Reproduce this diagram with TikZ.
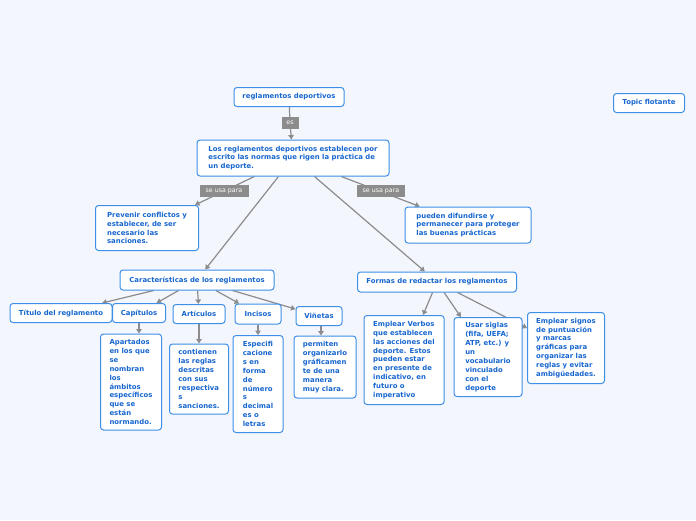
\documentclass[tikz,border=0pt]{standalone}
\usepackage{fontspec}
\setmainfont{DejaVu Sans}
\usetikzlibrary{arrows.meta}
\definecolor{fondo}{HTML}{F3F6FD}
\definecolor{borde}{HTML}{3D8FE8}
\definecolor{texto}{HTML}{1766CF}
\definecolor{gris}{HTML}{8C8C8C}
\pgfdeclarelayer{capafondo}
\pgfdeclarelayer{capalineas}
\pgfsetlayers{capafondo,capalineas,main}
\tikzset{
  tema/.style={draw=borde, line width=1pt, fill=white, rounded corners=3pt, text=texto,
    font=\fontsize{6.9}{8.9}\selectfont\bfseries, align=left, inner sep=0pt},
  etiqueta/.style={fill=gris, text=white, font=\fontsize{6.3}{7}\selectfont, inner sep=0pt, minimum height=12pt},
  linea/.style={draw=gris, line width=1.2pt},
  flecha/.style={linea, -{Triangle[length=4.5pt,width=5.5pt]}}
}
\begin{document}
\begin{tikzpicture}[x=1pt,y=-1pt]
\begin{pgfonlayer}{capafondo}
\fill[fondo] (0,0) rectangle (696,520);
\end{pgfonlayer}
\useasboundingbox (0,0) rectangle (696,520);

\node[tema, minimum width=110pt, minimum height=19pt] (regl) at (289,97) {reglamentos deportivos};
\node[etiqueta, minimum width=17pt] (es) at (290,123) {es};
\node[tema, minimum width=192pt, minimum height=36pt] (los) at (293,158) {Los reglamentos deportivos establecen por\\escrito las normas que rigen la práctica de\\un deporte.};
\node[etiqueta, minimum width=49pt] (usaizq) at (224,191) {se usa para};
\node[etiqueta, minimum width=48pt] (usader) at (381,191) {se usa para};
\node[tema, minimum width=103pt, minimum height=45pt] (prev) at (147,228) {Prevenir conflictos y\\establecer, de ser\\necesario las\\sanciones.};
\node[tema, minimum width=126pt, minimum height=36pt] (difu) at (468,225) {pueden difundirse y\\permanecer para proteger\\las buenas prácticas};
\node[tema, minimum width=154pt, minimum height=20pt] (carac) at (197,280) {Características de los reglamentos};
\node[tema, minimum width=159pt, minimum height=20pt] (formas) at (437,282) {Formas de redactar los reglamentos};

\node[tema, minimum width=102pt, minimum height=19pt] (titulo) at (61,313) {Título del reglamento};
\node[tema, minimum width=53pt, minimum height=19pt] (cap) at (139,313) {Capítulos};
\node[tema, minimum width=52pt, minimum height=19pt] (art) at (199,314) {Artículos};
\node[tema, minimum width=46pt, minimum height=20pt] (inc) at (258,314) {Incisos};
\node[tema, minimum width=46pt, minimum height=19pt] (vin) at (319,316) {Viñetas};

\node[tema, minimum width=61pt, minimum height=96pt] (apart) at (131,382) {Apartados\\en los que\\se\\nombran\\los\\ámbitos\\específicos\\que se\\están\\normando.};
\node[tema, minimum width=59pt, minimum height=70pt] (cont) at (199,379) {contienen\\las reglas\\descritas\\con sus\\respectiva\\s\\sanciones.};
\node[tema, minimum width=50pt, minimum height=97pt] (espec) at (258,384) {Especifi\\cacione\\s en\\forma\\de\\número\\s\\decimal\\es o\\letras};
\node[tema, minimum width=62pt, minimum height=62pt] (perm) at (325,367) {permiten\\organizarlo\\gráficamen\\te de una\\manera\\muy clara.};

\node[tema, minimum width=80pt, minimum height=89pt] (verbos) at (404,360) {Emplear Verbos\\que establecen\\las acciones del\\deporte. Estos\\pueden estar\\en presente de\\indicativo, en\\futuro o\\imperativo};
\node[tema, minimum width=68pt, minimum height=79pt] (siglas) at (488,357) {Usar siglas\\(fifa, UEFA;\\ATP, etc.) y\\un\\vocabulario\\vinculado\\con el\\deporte};
\node[tema, minimum width=77pt, minimum height=71pt] (signos) at (566,348) {Emplear signos\\de puntuación\\y marcas\\gráficas para\\organizar las\\reglas y evitar\\ambigüedades.};

\node[tema, minimum width=71pt, minimum height=19pt] (flot) at (649,103) {Topic flotante};

\begin{pgfonlayer}{capalineas}
\draw[linea] (regl) -- (es);
\draw[flecha] (es) -- (los);
\draw[flecha] (los) -- (prev);
\draw[flecha] (los) -- (difu);
\draw[flecha] (los) -- (carac);
\draw[flecha] (los) -- (formas);
\draw[flecha] (carac) -- (titulo);
\draw[flecha] (carac) -- (cap);
\draw[flecha] (carac) -- (art);
\draw[flecha] (carac) -- (inc);
\draw[flecha] (carac) -- (vin);
\draw[flecha] (cap.south) -- (cap.south |- apart.north);
\draw[flecha] (art) -- (cont);
\draw[flecha] (inc) -- (espec);
\draw[flecha] ([xshift=2pt]vin.south) -- ([xshift=2pt]vin.south |- perm.north);
\draw[flecha] (formas) -- (verbos);
\draw[flecha] (formas) -- (siglas);
\draw[flecha] (formas) -- (signos);
\end{pgfonlayer}
\end{tikzpicture}
\end{document}
